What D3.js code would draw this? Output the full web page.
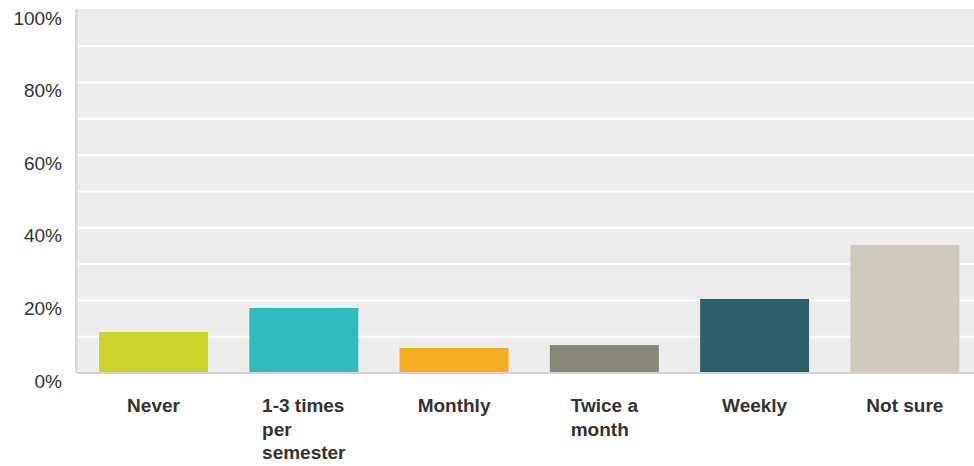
<!DOCTYPE html>
<html><head><meta charset="utf-8">
<script src="https://cdn.jsdelivr.net/npm/d3@7"></script>
<style>body{margin:0;background:#fff}svg{display:block}</style>
</head><body><svg id="c" width="974" height="466"></svg>
<script>
const categories = ["Never", "1-3 times per semester", "Monthly", "Twice a month", "Weekly", "Not sure"];
const values = [11.3, 17.9, 6.9, 7.7, 20.4, 35.3];
const colors = ["#ccd32a", "#31bbbb", "#f5ad1f", "#878878", "#2d5f6b", "#cecbbd"];
const yTicks = [0, 20, 40, 60, 80, 100];
const gridValues = [10, 20, 30, 40, 50, 60, 70, 80, 90];

(function () {
const svg = d3.select("#c");
const W = 974, mLeft = 78, mTop = 10, mBottom = 373;
const x = d3.scaleBand().domain(categories).range([mLeft, mLeft + 902.4]).paddingInner(0.275).paddingOuter(0.14);
const y = d3.scaleLinear().domain([0, 100]).range([mBottom, mTop]);

svg.append("rect").attr("x", mLeft - 3).attr("y", y(100) - 1).attr("width", W - mLeft + 3).attr("height", mBottom - y(100) + 1).attr("fill", "#ededed");
svg.selectAll(".grid").data(gridValues).join("line")
  .attr("x1", mLeft).attr("x2", W).attr("y1", d => y(d)).attr("y2", d => y(d))
  .attr("stroke", "#fff").attr("stroke-width", 2);
svg.append("rect").attr("x", mLeft - 3).attr("y", y(100) - 1).attr("width", 3).attr("height", mBottom - y(100) + 1).attr("fill", "#dcdcdc");

svg.selectAll(".bar").data(categories).join("rect")
  .attr("x", d => x(d)).attr("width", x.bandwidth())
  .attr("y", (d, i) => y(values[i])).attr("height", (d, i) => y(0) - y(values[i]))
  .attr("fill", (d, i) => colors[i]);

svg.append("rect").attr("x", mLeft - 1).attr("y", mBottom - 1).attr("width", W - mLeft + 1).attr("height", 2).attr("fill", "#d2d2d2");

svg.selectAll(".yl").data(yTicks).join("text")
  .attr("x", 62).attr("y", d => y(d) + 8).attr("dy", "0.35em")
  .attr("text-anchor", "end").attr("font-family", "Liberation Sans, Arial, sans-serif")
  .attr("font-size", 19).attr("fill", "#333").text(d => d + "%");

const maxW = 112;
categories.forEach((c, i) => {
  const g = svg.append("g");
  const t = g.append("text").attr("font-family", "Liberation Sans, Arial, sans-serif")
    .attr("font-size", 19).attr("font-weight", "bold").attr("fill", "#333");
  const words = c.split(" ");
  const lines = [];
  let cur = [];
  const meas = t.append("tspan");
  words.forEach(w => {
    const test = cur.concat([w]).join(" ");
    meas.text(test);
    if (meas.node().getComputedTextLength() > maxW && cur.length) { lines.push(cur.join(" ")); cur = [w]; }
    else cur.push(w);
  });
  lines.push(cur.join(" "));
  meas.remove();
  let bw = 0;
  lines.forEach((l, k) => {
    const ts = t.append("tspan").attr("x", 0).attr("y", 412 + k * 23.5).text(l);
    bw = Math.max(bw, ts.node().getComputedTextLength());
  });
  g.attr("transform", `translate(${x(c) + x.bandwidth() / 2 - bw / 2},0)`);
});
})();
</script></body></html>
